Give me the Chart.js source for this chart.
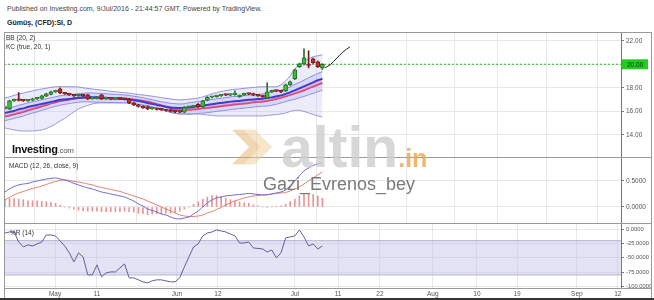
<!DOCTYPE html>
<html><head><meta charset="utf-8">
<script src="https://cdn.jsdelivr.net/npm/chart.js@4.4.1/dist/chart.umd.min.js"></script>
<style>
html,body{margin:0;padding:0;background:#fff;}
body{width:654px;height:300px;position:relative;overflow:hidden;font-family:Arial,"Liberation Sans",Helvetica,sans-serif;}
.abs{position:absolute;white-space:nowrap;}
canvas{position:absolute;left:0;top:0;}
.hl{position:absolute;height:1px;background:#9a9a9a;}
.vl{position:absolute;width:1px;background:#9a9a9a;}
.ov{position:absolute;white-space:nowrap;z-index:5;}
</style></head><body>

<div class="abs" style="left:7px;top:5px;font-size:7px;color:#444">Published on Investing.com, 9/Jul/2016 - 21:44:57 GMT, Powered by TradingView.</div>
<div class="abs" style="left:7px;top:19px;font-size:7px;font-weight:bold;color:#222">Gümüş, (CFD):SI, D</div>

<div class="abs" style="left:4px;top:32px;width:647px;height:125px"><canvas id="c1" width="647" height="125"></canvas></div>
<div class="abs" style="left:4px;top:157px;width:647px;height:66px"><canvas id="c2" width="647" height="66"></canvas></div>
<div class="abs" style="left:4px;top:223px;width:647px;height:77px"><canvas id="c3" width="647" height="77"></canvas></div>

<!-- frame -->
<div class="vl" style="left:4px;top:32px;height:268px"></div>
<div class="vl" style="left:651px;top:32px;height:268px"></div>
<div class="hl" style="left:4px;top:32px;width:648px"></div>
<div class="hl" style="left:4px;top:157px;width:648px"></div>
<div class="hl" style="left:4px;top:223px;width:648px"></div>
<div class="hl" style="left:4px;top:288px;width:648px"></div>
<div class="abs" style="left:0;top:298px;width:654px;height:2px;background:#333"></div>

<!-- pane titles -->
<div class="ov" style="left:6px;top:34px;font-size:6.5px;color:#333">BB (20, 2)</div>
<div class="ov" style="left:6px;top:43px;font-size:6.5px;color:#333">KC (true, 20, 1)</div>
<div class="ov" style="left:9px;top:162px;font-size:6.5px;color:#333">MACD (12, 26, close, 9)</div>
<div class="ov" style="left:10px;top:229px;font-size:6.5px;color:#333">%R (14)</div>
<div class="ov" style="left:12px;top:143px;font-size:11px;font-weight:bold;color:#111;letter-spacing:-0.3px">Investing<span style="font-weight:normal;font-size:8px;color:#555">.com</span></div>

<!-- watermark -->
<svg class="ov" style="left:230px;top:126px;opacity:0.5" width="48" height="42" viewBox="0 0 50 44">
  <polygon points="2,4 22,4 40,22 22,40 2,40 20,22" fill="#e3b066"/>
  <polygon points="14,4 26,4 44,22 26,40 14,40 32,22" fill="#f0cf96"/>
</svg>
<div class="ov" style="left:281px;top:114px;font-size:57px;font-weight:bold;color:#cdcdcd;opacity:0.8;letter-spacing:0px">altin<span style="font-size:25px;color:#eaa84a">.in</span></div>
<div class="ov" style="left:263px;top:174px;font-size:18px;color:#7a7a7a">Gazi_Evrenos_bey</div>

<script>
// ---------------- data ----------------
const xTickLabels = ['May','11','Jun','12','Jul','11','22','Aug','10','19','Sep','12'];
const xTickPos    = [10.9, 20, 37.4, 46.3, 63, 72.4, 81.5, 93, 102.6, 111.3, 124.3, 133.2];

const priceTicks = [14, 16, 18, 20, 22];
const macdTicks  = [0, 0.5];
const wrTicks    = [0, -25, -50, -75, -100];
const lastPrice  = 20.00;

const opens  = [16.28,16.21,16.90,16.96,16.93,16.90,16.95,17.06,17.10,17.30,
                17.45,17.66,17.91,17.57,17.49,17.40,17.33,17.40,17.40,17.08,
                17.12,17.40,17.06,17.08,17.04,17.08,17.06,17.04,16.72,16.55,
                16.42,16.40,16.21,16.23,16.17,16.13,16.15,16.00,15.96,15.94,
                16.35,16.38,16.60,16.40,16.95,17.20,17.25,17.32,17.40,17.38,
                17.42,17.25,17.40,17.49,17.50,17.38,17.32,17.15,17.66,17.74,
                17.72,17.74,18.26,18.77,19.79,20.04,20.00,20.47,20.21,19.70];
const closes = [16.32,16.89,16.98,16.93,16.90,16.95,17.06,17.15,17.32,17.49,
                17.66,17.74,17.57,17.49,17.40,17.32,17.40,17.32,17.06,17.15,
                17.23,17.06,17.08,17.04,17.08,17.06,17.02,16.72,16.55,16.42,
                16.30,16.21,16.23,16.17,16.13,16.08,16.00,15.96,15.94,16.35,
                16.38,16.47,16.40,16.89,17.20,17.23,17.32,17.40,17.38,17.42,
                17.45,17.35,17.49,17.47,17.38,17.32,17.25,17.66,17.74,17.72,
                17.66,18.26,18.51,19.53,20.04,20.55,19.90,20.13,19.79,20.00];
const highs  = [16.38,16.95,17.04,17.60,16.98,17.00,17.12,17.20,17.38,17.55,
                17.72,17.80,18.00,17.62,17.54,17.46,17.46,17.46,17.46,17.20,
                17.28,17.46,17.12,17.13,17.13,17.13,17.11,17.10,16.78,16.60,
                16.48,16.46,16.28,16.28,16.22,16.18,16.20,16.05,16.01,16.40,
                16.43,16.52,16.66,16.95,17.26,17.28,17.38,17.46,17.45,17.47,
                17.75,17.41,17.55,17.54,17.56,17.43,17.37,18.43,17.80,17.80,
                17.78,18.32,18.58,19.60,20.10,21.32,21.15,20.53,20.28,20.06];
const lows   = [16.22,16.15,16.85,16.88,16.85,16.85,16.90,17.01,17.05,17.25,
                17.40,17.60,17.50,17.44,17.35,17.27,17.28,17.27,17.00,17.03,
                17.07,17.00,17.01,16.99,16.99,17.01,16.97,16.66,16.49,16.36,
                16.25,16.15,16.16,16.11,16.07,16.02,15.95,15.90,15.88,15.88,
                16.30,16.33,16.34,16.34,16.90,17.15,17.20,17.27,17.33,17.33,
                17.37,17.20,17.35,17.42,17.33,17.27,17.20,17.10,17.60,17.67,
                17.60,17.68,18.20,18.70,19.73,19.95,19.70,20.07,19.73,19.55];

const bbUpper = [17.15,17.23,17.36,17.46,17.56,17.66,17.74,17.83,17.90,17.97,
                 18.04,18.09,18.10,18.10,18.09,18.09,18.07,18.00,17.95,17.90,
                 17.85,17.81,17.76,17.71,17.67,17.63,17.59,17.55,17.49,17.44,
                 17.39,17.34,17.29,17.23,17.17,17.11,17.06,17.00,16.98,17.00,
                 17.04,17.08,17.13,17.23,17.36,17.49,17.60,17.69,17.76,17.83,
                 17.88,17.91,17.96,18.00,18.03,18.07,18.09,18.09,18.09,18.09,
                 18.26,18.60,19.02,19.62,19.96,20.21,20.47,20.64,20.72,20.81];
const bbLower = [14.60,14.51,14.43,14.36,14.34,14.34,14.34,14.38,14.43,14.55,
                 14.72,14.94,15.19,15.40,15.70,15.96,16.21,16.38,16.51,16.64,
                 16.71,16.72,16.72,16.72,16.72,16.72,16.72,16.71,16.66,16.60,
                 16.53,16.47,16.38,16.28,16.17,16.04,15.91,15.83,15.79,15.79,
                 15.79,15.79,15.79,15.74,15.70,15.66,15.62,15.62,15.62,15.62,
                 15.62,15.62,15.62,15.62,15.62,15.62,15.62,15.66,15.70,15.74,
                 15.79,15.87,16.00,16.09,16.09,16.00,15.87,15.74,15.62,15.53];
const kcUpper = [16.22,16.31,16.39,16.52,16.61,16.73,16.82,16.90,16.99,17.07,
                 17.16,17.24,17.33,17.37,17.41,17.46,17.50,17.54,17.56,17.56,
                 17.54,17.52,17.50,17.47,17.45,17.42,17.40,17.35,17.29,17.23,
                 17.16,17.07,16.99,16.90,16.82,16.75,16.69,16.65,16.63,16.65,
                 16.74,16.78,16.83,16.89,16.95,17.01,17.07,17.12,17.17,17.23,
                 17.27,17.29,17.34,17.38,17.41,17.45,17.48,17.58,17.64,17.73,
                 17.81,17.94,18.07,18.29,18.46,18.65,18.85,19.04,19.22,19.37];
const kcLower = [15.22,15.31,15.41,15.51,15.61,15.74,15.86,15.96,16.09,16.20,
                 16.33,16.43,16.53,16.60,16.67,16.73,16.78,16.82,16.82,16.80,
                 16.78,16.77,16.76,16.76,16.75,16.74,16.74,16.71,16.66,16.60,
                 16.54,16.48,16.37,16.26,16.16,16.05,15.95,15.84,15.78,15.78,
                 15.75,15.78,15.81,15.86,15.90,15.95,16.00,16.05,16.10,16.15,
                 16.20,16.24,16.28,16.32,16.37,16.41,16.45,16.46,16.53,16.61,
                 16.72,16.83,16.95,17.03,17.16,17.27,17.41,17.53,17.67,17.81];
const kcBasis = [15.87,15.96,16.04,16.17,16.26,16.38,16.47,16.55,16.64,16.72,
                 16.81,16.89,16.98,17.02,17.06,17.11,17.15,17.19,17.21,17.21,
                 17.19,17.17,17.15,17.12,17.10,17.07,17.05,17.00,16.94,16.88,
                 16.81,16.72,16.64,16.55,16.47,16.40,16.34,16.30,16.28,16.30,
                 16.34,16.38,16.43,16.49,16.55,16.61,16.67,16.72,16.77,16.83,
                 16.87,16.89,16.94,16.98,17.01,17.05,17.08,17.13,17.19,17.28,
                 17.36,17.49,17.62,17.79,17.96,18.13,18.30,18.47,18.64,18.77];
const bbBasis = [15.57,15.66,15.76,15.86,15.96,16.09,16.21,16.31,16.44,16.55,
                 16.68,16.78,16.88,16.95,17.02,17.08,17.13,17.17,17.17,17.15,
                 17.13,17.12,17.11,17.11,17.10,17.09,17.09,17.06,17.01,16.95,
                 16.89,16.83,16.72,16.61,16.51,16.40,16.30,16.19,16.13,16.13,
                 16.15,16.18,16.21,16.26,16.30,16.35,16.40,16.45,16.50,16.55,
                 16.60,16.64,16.68,16.72,16.77,16.81,16.85,16.91,16.98,17.06,
                 17.17,17.28,17.40,17.53,17.66,17.80,17.96,18.11,18.27,18.43];

const projX = [69.6, 70.7, 72.2, 73.5, 75.0];
const projY = [19.70, 19.96, 20.55, 21.06, 21.49];

const macdLine = [0.288,0.346,0.394,0.423,0.442,0.452,0.481,0.500,0.519,0.538,
                  0.548,0.558,0.538,0.519,0.490,0.452,0.423,0.394,0.365,0.346,
                  0.317,0.288,0.269,0.250,0.231,0.212,0.192,0.154,0.115,0.058,
                  0.019,-0.038,-0.067,-0.096,-0.135,-0.154,-0.192,-0.221,-0.231,-0.212,
                  -0.192,-0.135,-0.077,0.000,0.077,0.135,0.173,0.192,0.212,0.221,
                  0.231,0.240,0.250,0.260,0.250,0.240,0.231,0.231,0.250,0.269,
                  0.288,0.327,0.404,0.500,0.596,0.692,0.750,0.798,0.827,0.846];
const signalLine = [0.135,0.183,0.231,0.269,0.298,0.327,0.356,0.375,0.404,0.433,
                    0.462,0.490,0.510,0.519,0.510,0.490,0.481,0.462,0.442,0.423,
                    0.394,0.375,0.356,0.337,0.317,0.298,0.269,0.240,0.212,0.183,
                    0.154,0.115,0.077,0.038,0.000,-0.038,-0.077,-0.115,-0.154,-0.173,
                    -0.183,-0.183,-0.173,-0.154,-0.115,-0.087,-0.048,-0.010,0.038,0.077,
                    0.115,0.144,0.173,0.192,0.212,0.221,0.231,0.240,0.250,0.260,
                    0.269,0.279,0.308,0.346,0.385,0.442,0.500,0.558,0.615,0.673];
const macdHist = [0.15,0.16,0.16,0.15,0.14,0.12,0.12,0.12,0.11,0.10,
                  0.09,0.07,0.03,0.00,-0.02,-0.04,-0.06,-0.07,-0.08,-0.08,
                  -0.08,-0.09,-0.09,-0.09,-0.09,-0.09,-0.08,-0.09,-0.10,-0.12,
                  -0.13,-0.15,-0.14,-0.13,-0.13,-0.12,-0.12,-0.11,-0.08,-0.04,
                  -0.01,0.05,0.10,0.15,0.19,0.22,0.22,0.20,0.17,0.14,
                  0.12,0.10,0.08,0.07,0.04,0.02,0.00,-0.01,0.00,0.01,
                  0.02,0.05,0.10,0.15,0.21,0.25,0.25,0.24,0.21,0.17];

const williamsR = [-6.5,-4.7,-4.7,-22.2,-30.9,-27.4,-29.2,-25.7,-22.2,-10.0,
                   -10.0,-11.7,-20.5,-29.2,-41.4,-57.2,-41.4,-48.4,-79.9,-79.9,
                   -62.4,-83.4,-76.4,-74.7,-74.7,-67.7,-60.7,-85.1,-85.1,-88.6,
                   -92.1,-93.9,-90.4,-88.6,-88.6,-90.4,-92.1,-92.1,-85.1,-65.9,
                   -48.4,-30.9,-25.7,-11.7,-6.5,-4.7,-1.2,-3.0,-4.7,-8.2,
                   -11.7,-24.0,-24.0,-22.2,-32.7,-33.6,-34.4,-39.7,-36.2,-50.2,
                   -41.4,-15.2,-13.5,-11.7,-1.2,-13.5,-29.2,-25.7,-34.4,-29.2];
const wrBandTop = -20, wrBandBottom = -80;

// ---------------- helpers ----------------
const X_MIN = -0.2, X_MAX = 133.9;
const FONT = "Arial, 'Liberation Sans', sans-serif";
const pts = arr => arr.map((v, i) => ({x: i, y: v}));
const flat = v => [{x: X_MIN, y: v}, {x: X_MAX, y: v}];

function xScale(showLabels) {
  return {
    type: 'linear', min: X_MIN, max: X_MAX, offset: false,
    afterBuildTicks: s => { s.ticks = xTickPos.map(v => ({value: v})); },
    ticks: { display: showLabels, autoSkip: false, maxRotation: 0, minRotation: 0,
             font: {size: 6.5, family: FONT}, color: '#555', padding: 2,
             callback: (v, i) => xTickLabels[i] },
    grid: { color: '#e8e8e8', drawTicks: false, lineWidth: 1 },
    border: { display: false },
    afterFit: s => { s.height = showLabels ? 12 : 0; s.paddingLeft = 0; s.paddingRight = 0; }
  };
}
function yScale(min, max, ticks, fmt, fsize) {
  return {
    position: 'right', min, max,
    afterBuildTicks: s => { s.ticks = ticks.map(v => ({value: v})); },
    ticks: { autoSkip: false, font: {size: fsize || 6.5, family: FONT}, color: '#555', padding: 2,
             callback: v => fmt(v) },
    grid: { color: '#e8e8e8', tickLength: 3, tickColor: '#777', lineWidth: 1 },
    border: { display: true, color: '#777' },
    afterFit: s => { s.width = 30; s.paddingTop = 0; s.paddingBottom = 0; }
  };
}
const baseOpts = {
  responsive: false, animation: false, devicePixelRatio: 1,
  layout: { padding: 0 },
  plugins: { legend: {display: false}, tooltip: {enabled: false} },
  elements: { point: { radius: 0 } }
};

const up = i => closes[i] >= opens[i];

// price label plugin
const priceLabel = {
  id: 'priceLabel',
  afterDraw(chart) {
    const y = chart.scales.y.getPixelForValue(lastPrice);
    const x0 = chart.chartArea.right + 1;
    const ctx = chart.ctx;
    ctx.save();
    ctx.fillStyle = '#22cc22';
    ctx.fillRect(x0, y - 5, 26, 10);
    ctx.fillStyle = '#113311';
    ctx.font = "6.5px " + FONT;
    ctx.textBaseline = 'middle';
    ctx.fillText(lastPrice.toFixed(2), x0 + 5, y + 0.5);
    ctx.restore();
  }
};

// ---------------- main chart ----------------
new Chart(document.getElementById('c1'), {
  type: 'bar',
  data: { datasets: [
    { type: 'line', data: pts(bbUpper), borderColor: '#8f8fdc', borderWidth: 1, fill: '+1',
      backgroundColor: 'rgba(190,190,238,0.30)', order: 20, tension: 0.3 },
    { type: 'line', data: pts(bbLower), borderColor: '#8f8fdc', borderWidth: 1, fill: false, order: 21, tension: 0.3 },
    { type: 'line', data: pts(kcUpper), borderColor: '#8a8ae0', borderWidth: 1, fill: '+1',
      backgroundColor: 'rgba(170,170,235,0.30)', order: 15, tension: 0.3 },
    { type: 'line', data: pts(kcLower), borderColor: '#8a8ae0', borderWidth: 1, fill: false, order: 16, tension: 0.3 },
    { type: 'line', data: pts(kcBasis), borderColor: '#3b3bd6', borderWidth: 2, fill: '+1',
      backgroundColor: 'rgba(235,150,190,0.45)', order: 10, tension: 0.3 },
    { type: 'line', data: pts(bbBasis), borderColor: '#d04070', borderWidth: 2, fill: false, order: 11, tension: 0.3 },
    { type: 'line', data: flat(lastPrice), borderColor: '#33bb33', borderWidth: 1, borderDash: [2, 2], fill: false, order: 5 },
    { data: lows.map((l, i) => ({x: i, y: [l, highs[i]]})), grouped: false, barThickness: 1,
      backgroundColor: ctx => up(ctx.dataIndex) ? '#2f6e2f' : '#6e2020', order: 3 },
    { data: opens.map((o, i) => ({x: i, y: [o, closes[i]]})), grouped: false, barThickness: 4,
      borderSkipped: false, borderWidth: 1,
      minBarLength: 1.5,
      backgroundColor: ctx => up(ctx.dataIndex) ? '#33c433' : '#cc2b2b',
      borderColor: ctx => up(ctx.dataIndex) ? '#2a6a2a' : '#7a1a1a', order: 2 },
    { type: 'line', data: projX.map((x, i) => ({x, y: projY[i]})), borderColor: '#222', borderWidth: 1,
      fill: false, order: 1, tension: 0.3 }
  ]},
  options: Object.assign({}, baseOpts, {
    scales: { x: xScale(false), y: yScale(12.13, 22.74, priceTicks, v => v.toFixed(2)) }
  }),
  plugins: [priceLabel]
});

// ---------------- MACD ----------------
new Chart(document.getElementById('c2'), {
  type: 'bar',
  data: { datasets: [
    { type: 'line', data: pts(macdLine), borderColor: '#6a6ad6', borderWidth: 1, fill: false, order: 1, tension: 0.3 },
    { type: 'line', data: pts(signalLine), borderColor: '#e57f6e', borderWidth: 1, fill: false, order: 2, tension: 0.3 },
    { data: pts(macdHist), grouped: false, barThickness: 1, backgroundColor: '#e89494', order: 3 }
  ]},
  options: Object.assign({}, baseOpts, {
    scales: { x: xScale(false), y: yScale(-0.308, 0.96, macdTicks, v => v.toFixed(4)) }
  })
});

// ---------------- Williams %R ----------------
new Chart(document.getElementById('c3'), {
  type: 'line',
  data: { datasets: [
    { data: flat(wrBandTop), borderColor: '#b0b0d4', borderWidth: 1, fill: '+1',
      backgroundColor: 'rgba(185,185,230,0.40)', order: 5 },
    { data: flat(wrBandBottom), borderColor: '#b0b0d4', borderWidth: 1, fill: false, order: 6 },
    { data: pts(williamsR), borderColor: '#5f5f9c', borderWidth: 1, fill: false, order: 1 }
  ]},
  options: Object.assign({}, baseOpts, {
    scales: { x: xScale(true), y: yScale(-102.9, 11, wrTicks, v => v.toFixed(4), 5.8) }
  })
});
</script>
</body></html>
